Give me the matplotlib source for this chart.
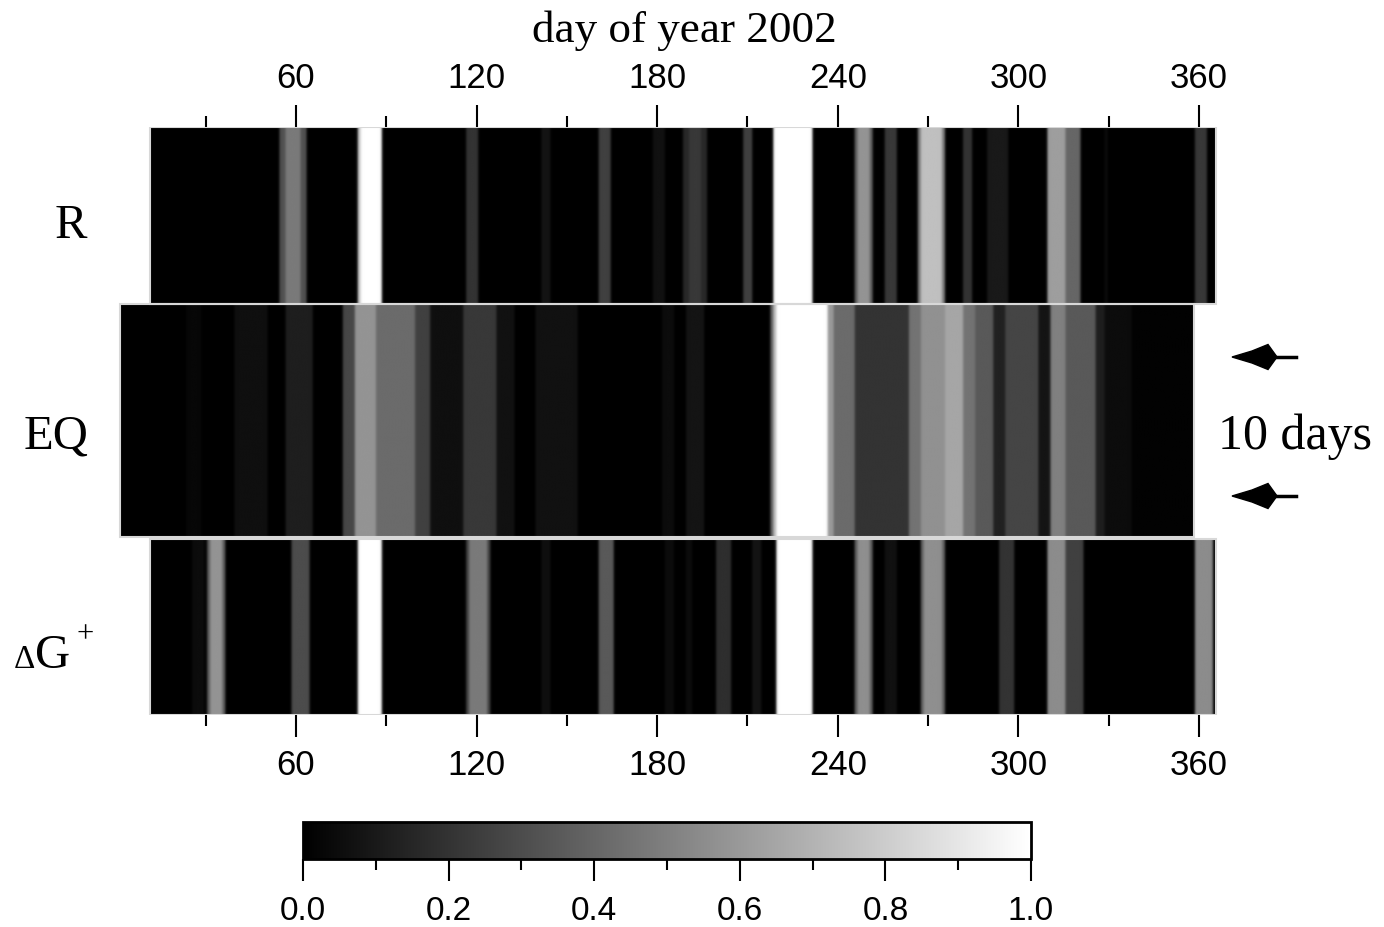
import numpy as np
import matplotlib
matplotlib.use('Agg')
import matplotlib.pyplot as plt
from matplotlib.patches import Rectangle, Polygon
from matplotlib.ticker import FixedLocator

# ---- data: bright bands per strip (first day, last day, normalised level) ----
# later entries overwrite earlier ones (brighter cores inside wider bands)
r_first, r_last = 12, 365
r_start = [55, 57, 81, 82, 117, 142, 161, 179, 189, 191, 209, 219, 246, 247, 256, 267, 268, 282, 290, 310, 316, 329, 359]
r_end   = [63, 61, 88, 88, 120, 144, 164, 182, 196, 194, 211, 231, 251, 250, 259, 275, 274, 284, 296, 315, 320, 329, 362]
r_level = [0.32, 0.48, 0.8, 1.0, 0.2, 0.08, 0.25, 0.07, 0.16, 0.22, 0.25, 1.0, 0.38, 0.58, 0.22, 0.5, 0.75, 0.2, 0.1,
           0.62, 0.4, 0.05, 0.22]

eq_first, eq_last = 2, 358
eq_start = [24, 40, 57, 76, 80, 87, 100, 105, 116, 127, 140, 182, 190, 218, 219, 220, 237, 239, 246,
            264, 268, 276, 282, 286, 292, 296, 307, 311, 316, 326, 329, 338]
eq_end   = [28, 50, 65, 79, 86, 99, 104, 115, 126, 132, 153, 185, 195, 218, 219, 236, 238, 245, 263,
            267, 275, 281, 285, 291, 295, 306, 310, 315, 325, 328, 337, 358]
eq_level = [0.03, 0.06, 0.12, 0.28, 0.58, 0.42, 0.25, 0.06, 0.22, 0.07, 0.07, 0.05, 0.08, 0.4, 0.75, 1.0, 0.6, 0.42, 0.2,
            0.45, 0.57, 0.65, 0.45, 0.35, 0.13, 0.27, 0.08, 0.5, 0.35, 0.12, 0.05, 0.01]

dg_first, dg_last = 12, 365
dg_start = [26, 31, 32, 59, 81, 117, 118, 142, 161, 183, 190, 200, 212, 220, 246, 247, 256, 268, 269, 294, 310, 316, 359]
dg_end   = [29, 36, 35, 64, 88, 124, 123, 144, 165, 185, 191, 204, 214, 231, 251, 250, 259, 275, 274, 298, 315, 321, 364]
dg_level = [0.05, 0.38, 0.58, 0.3, 1.0, 0.28, 0.48, 0.06, 0.35, 0.05, 0.05, 0.18, 0.08, 1.0, 0.38, 0.56, 0.07,
            0.4, 0.56, 0.2, 0.55, 0.25, 0.55]

day_ticks = [60, 120, 180, 240, 300, 360]
day_minor = [30, 90, 150, 210, 270, 330]
cbar_ticks = [0.0, 0.2, 0.4, 0.6, 0.8, 1.0]
cbar_minor = [0.1, 0.3, 0.5, 0.7, 0.9]


def build_strip(first, last, starts, ends, levels):
    days = np.arange(first, last + 1)
    vals = np.zeros(len(days))
    for s, e, v in zip(starts, ends, levels):
        vals[(days >= s) & (days <= e)] = v
    return np.vstack([vals, vals, vals])


SANS = 'Liberation Sans'
SERIF = 'Liberation Serif'

W, H = 1384, 928
fig = plt.figure(figsize=(W / 100, H / 100), dpi=100, facecolor='white')

# main axes: x in day of year, y in strip units (pixels of the layout)
x0_px, px_per_day = 115.4, 3.01
xmin, xmax = 0, 370
top_px, bot_px = 128, 716
ax = fig.add_axes([(x0_px + px_per_day * xmin) / W, (H - bot_px) / H,
                   px_per_day * (xmax - xmin) / W, (bot_px - top_px) / H])
ax.set_xlim(xmin, xmax)
ax.set_ylim(0, bot_px - top_px)
for sp in ax.spines.values():
    sp.set_visible(False)
ax.set_yticks([])

# strip placement (bottom, top) in axis units
rows = [
    (r_first, r_last, build_strip(r_first, r_last, r_start, r_end, r_level), 411, 588),
    (eq_first, eq_last, build_strip(eq_first, eq_last, eq_start, eq_end, eq_level), 178, 411),
    (dg_first, dg_last, build_strip(dg_first, dg_last, dg_start, dg_end, dg_level), 0, 176),
]
for first, last, vals, yb, yt in rows:
    im = ax.imshow(vals, extent=(first - 0.5, last + 0.5, yb, yt),
                   aspect='auto', cmap='gray', vmin=0, vmax=1,
                   interpolation='gaussian', interpolation_stage='rgba')
    ax.add_patch(Rectangle((first - 0.5, yb), last - first + 1, yt - yb, fill=False,
                           edgecolor='#d8d8d8', lw=1.5, zorder=3))

ax.xaxis.set_major_locator(FixedLocator(day_ticks))
ax.xaxis.set_minor_locator(FixedLocator(day_minor))
ax.tick_params(axis='x', which='both', top=True, bottom=True, labeltop=True, labelbottom=True,
               direction='out', width=1.5, color='black', labelsize=25, pad=8)
ax.tick_params(axis='x', which='major', length=16)
ax.tick_params(axis='x', which='minor', length=8)
for lab in ax.get_xticklabels():
    lab.set_fontfamily(SANS)

# title and row labels
fig.text(684 / W, 1 - 31 / H, 'day of year 2002', ha='center', va='center', fontsize=32.5, family=SERIF)
fig.text(71 / W, 1 - 226 / H, 'R', ha='center', va='center', fontsize=35, family=SERIF)
fig.text(56 / W, 1 - 437 / H, 'EQ', ha='center', va='center', fontsize=35, family=SERIF)
fig.text(14 / W, 1 - 668 / H, 'Δ', ha='left', va='baseline', fontsize=24, family=SERIF)
fig.text(35 / W, 1 - 668 / H, 'G', ha='left', va='baseline', fontsize=35, family=SERIF)
fig.text(77 / W, 1 - 642 / H, '+', ha='left', va='baseline', fontsize=22, family=SERIF)
fig.text(1295 / W, 1 - 437 / H, '10 days', ha='center', va='center', fontsize=36, family=SERIF)

# overlay in pixel coordinates for the two arrows
ov = fig.add_axes([0, 0, 1, 1])
ov.set_xlim(0, W)
ov.set_ylim(H, 0)
ov.axis('off')
for y in [358, 497]:
    ov.add_patch(Polygon([(1232, y), (1252, y - 6), (1268, y - 12.5), (1277, y),
                          (1268, y + 12.5), (1252, y + 6)], closed=True, color='black'))
    ov.plot([1270, 1296], [y, y], color='black', lw=2.5)

# colorbar
cax = fig.add_axes([303 / W, (H - 860) / H, (1031 - 303) / W, 37 / H])
cb = fig.colorbar(im, cax=cax, orientation='horizontal')
cb.set_ticks(cbar_ticks)
cb.ax.xaxis.set_minor_locator(FixedLocator(cbar_minor))
cb.ax.set_xticklabels([f'{t:.1f}' for t in cbar_ticks], family=SANS, fontsize=24)
cb.ax.tick_params(which='major', length=16, width=1.5, pad=10)
cb.ax.tick_params(which='minor', length=8, width=1.5)
cb.outline.set_linewidth(2)

fig.savefig('out.png', dpi=100, facecolor='white')
